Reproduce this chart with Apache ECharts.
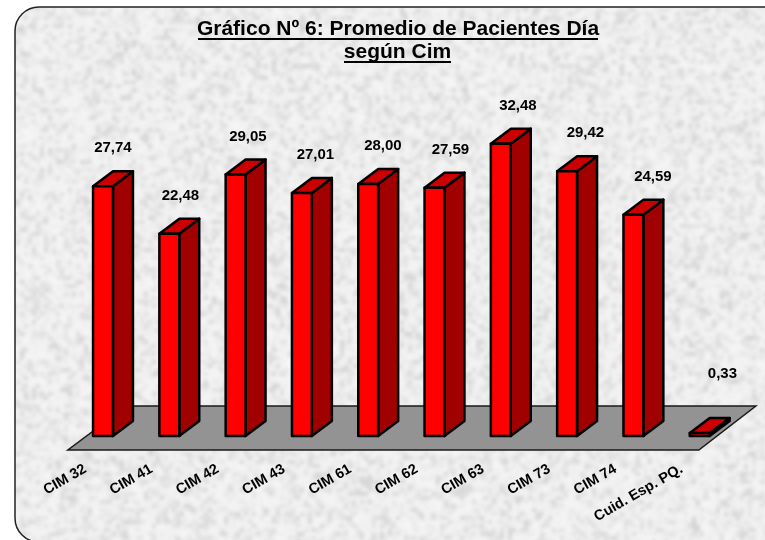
<html>
<head>
    <meta charset="UTF-8">
    <title>Gráfico Nº 6</title>
    <script src="https://cdn.jsdelivr.net/npm/echarts@6/dist/echarts.min.js"></script>
    <style>
        #echart {
            width: 765px;
            height: 540px;
        }
        body {
            padding: 0;
            margin: 0;
            border: none;
            background: #fff;
        }
    </style>
</head>
<body>
<div id="echart"></div>
<script>
    const categories = ['CIM 32', 'CIM 41', 'CIM 42', 'CIM 43', 'CIM 61', 'CIM 62', 'CIM 63', 'CIM 73', 'CIM 74', 'Cuid. Esp. PQ.'];
    const pacientes = [27.74, 22.48, 29.05, 27.01, 28.00, 27.59, 32.48, 29.42, 24.59, 0.33];

    const FONT = '"Liberation Sans", Arial, sans-serif';
    const DX = 20, DY = 15;   // depth of a bar

    // blotchy paper texture behind the chart
    function paper() {
        const hash = (x, y) => {
            const s = Math.sin(x * 127.1 + y * 311.7) * 43758.5453;
            return s - Math.floor(s);
        };
        const small = document.createElement('canvas');
        small.width = 210;
        small.height = 150;
        const c = small.getContext('2d');
        for (let y = 0; y < 150; y++) {
            for (let x = 0; x < 210; x++) {
                const v = Math.round(241 - Math.pow(hash(x, y), 3) * 34 + hash(y + 9, x + 3) * 6);
                c.fillStyle = 'rgb(' + v + ',' + v + ',' + v + ')';
                c.fillRect(x, y, 1, 1);
            }
        }
        const big = document.createElement('canvas');
        big.width = 840;
        big.height = 600;
        const b = big.getContext('2d');
        b.imageSmoothingEnabled = true;
        b.filter = 'blur(1.5px)';
        b.drawImage(small, 0, 0, 840, 600);
        return big;
    }

    function renderFloor(params, api) {
        const cs = params.coordSys;
        const base = cs.y + cs.height;
        return {
            type: 'polygon',
            shape: {
                points: [
                    [cs.x - 2, base + 14],
                    [cs.x + cs.width - 34, base + 14],
                    [cs.x + cs.width + 23, base - 30],
                    [cs.x + 57, base - 30]
                ]
            },
            style: {fill: '#939393', stroke: '#1a1a1a', lineWidth: 1.5}
        };
    }

    function renderBar(params, api) {
        const top = api.coord([api.value(0), api.value(1)]);
        const bottom = api.coord([api.value(0), 0]);
        const w = api.size([1, 0])[0] * 0.3;
        const x0 = top[0] - w / 2, x1 = top[0] + w / 2;
        const y0 = top[1], y1 = bottom[1];
        const line = {stroke: '#000', lineWidth: 2.5, lineJoin: 'round'};
        const small = api.value(1) < 1;
        return {
            type: 'group',
            children: [
                {
                    type: 'polygon',
                    shape: {points: [[x1, y0], [x1 + DX, y0 - DY], [x1 + DX, y1 - DY], [x1, y1]]},
                    style: Object.assign({fill: '#a00000'}, line)
                },
                {
                    type: 'polygon',
                    shape: {points: [[x0, y0], [x0 + DX, y0 - DY], [x1 + DX, y0 - DY], [x1, y0]]},
                    style: Object.assign({fill: '#cc0000'}, line)
                },
                {
                    type: 'rect',
                    shape: {x: x0, y: y0, width: w, height: y1 - y0},
                    style: Object.assign({fill: '#ff0000'}, line)
                },
                {
                    type: 'text',
                    // the labels sit on a slightly wider spacing than the bars
                    x: x1 + params.dataIndex * 1.2 + (small ? 2 : 0),
                    y: y0 - DY - (small ? 44 : 23),
                    style: {
                        text: api.value(1).toFixed(2).replace('.', ','),
                        font: 'bold 15px ' + FONT,
                        fill: '#000',
                        align: 'center',
                        verticalAlign: 'middle'
                    }
                }
            ]
        };
    }

    function buildOption() {
        return {
            animation: false,
            graphic: [
                {
                    type: 'rect',
                    z: -10,
                    shape: {x: 15, y: 7, width: 800, height: 535, r: [24, 0, 0, 24]},
                    style: {fill: {image: paper(), repeat: 'no-repeat'}, stroke: '#222', lineWidth: 1.5}
                },
                {type: 'text', x: 398, y: 29, style: {text: 'Gráfico Nº 6: Promedio de Pacientes Día', font: 'bold 21px ' + FONT, fill: '#000', align: 'center', verticalAlign: 'middle'}},
                {type: 'text', x: 397.5, y: 52, style: {text: 'según Cim', font: 'bold 21px ' + FONT, fill: '#000', align: 'center', verticalAlign: 'middle'}},
                {type: 'rect', shape: {x: 198, y: 38, width: 400, height: 2}, style: {fill: '#000'}},
                {type: 'rect', shape: {x: 344, y: 61, width: 107, height: 2}, style: {fill: '#000'}}
            ],
            grid: [
                {left: 69.85, top: 76, width: 663, height: 360},
                {left: 52, top: 76, width: 663, height: 360}
            ],
            xAxis: [
                {
                    type: 'category',
                    data: categories,
                    axisLine: {show: false},
                    axisTick: {show: false},
                    axisLabel: {show: false}
                },
                {
                    type: 'category',
                    gridIndex: 1,
                    data: categories,
                    axisLine: {show: false},
                    axisTick: {show: false},
                    axisLabel: {
                        interval: 0,
                        rotate: 30,
                        margin: 32,
                        color: '#000',
                        fontFamily: FONT,
                        fontWeight: 'bold',
                        fontSize: 14.5
                    }
                }
            ],
            yAxis: [
                {type: 'value', min: 0, max: 40, show: false},
                {type: 'value', gridIndex: 1, min: 0, max: 40, show: false}
            ],
            series: [
                {
                    type: 'custom',
                    renderItem: renderFloor,
                    data: [[0, 0]],
                    clip: false,
                    silent: true,
                    z: 1
                },
                {
                    type: 'custom',
                    renderItem: renderBar,
                    data: pacientes.map((v, ind) => [ind, v]),
                    encode: {x: 0, y: 1},
                    clip: false,
                    silent: true,
                    z: 2
                }
            ]
        };
    }

    window.onload = function () {
        const ec = echarts.init(document.getElementById('echart'));
        ec.setOption(buildOption(), true);
    };
</script>
</body>
</html>
